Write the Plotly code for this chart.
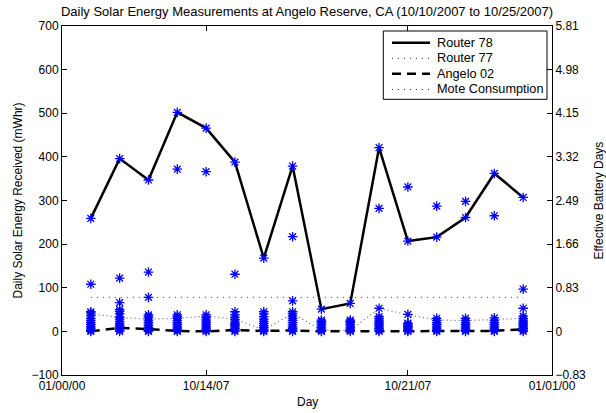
import plotly.graph_objects as go

days = [10, 11, 12, 13, 14, 15, 16, 17, 18, 19, 20, 21, 22, 23, 24, 25]

router78 = [259, 396, 347, 502, 466, 388, 168, 379, 51, 64, 421, 207, 216, 261, 362, 307]
router77 = [40, 32, 28, 30, 35, 28, 3, 41, 3, 2, 53, 38, 26, 25, 27, 30]
angelo02 = [0, 8, 5, 1, 0, 3, 1, 2, 0, 0, 0, 0, 0, 1, 1, 5]
mote_consumption = [78] * 16

# Second-highest node readings per day
second_node = [108, 122, 136, 372, 366, 131, None, 217, None, None, 282, 331, 287, 298, 265, 97]
# Additional isolated readings
extra_days = [11, 12, 17, 20, 21, 25]
extra_vals = [66, 78, 70, 53, 39, 53]

# Clustered low readings from the remaining nodes, per day
cluster_values = [
    [0, 2, 5, 8, 12, 16, 20, 25, 30, 36, 42, 45],
    [0, 3, 6, 10, 14, 18, 23, 28, 33, 40, 46, 50],
    [0, 2, 5, 9, 13, 17, 21, 26, 31, 35, 38],
    [0, 2, 5, 8, 12, 16, 20, 25, 30, 34, 38],
    [0, 2, 5, 8, 12, 16, 20, 24, 28, 33, 38],
    [0, 3, 6, 10, 14, 18, 22, 27, 32, 38, 45],
    [0, 2, 5, 9, 13, 18, 23, 28, 34, 40, 45],
    [0, 3, 6, 10, 15, 20, 25, 30, 35, 40, 45],
    [0, 2, 5, 8, 12, 16, 20, 23, 26],
    [0, 2, 5, 8, 12, 16, 20, 23, 26],
    [0, 3, 6, 10, 14, 18, 22, 26, 30, 34],
    [0, 2, 5, 8, 11, 14, 17, 19],
    [0, 2, 5, 8, 12, 16, 20, 25, 30],
    [0, 2, 5, 8, 12, 16, 20, 25, 30],
    [0, 2, 5, 8, 12, 16, 20, 25, 31],
    [0, 3, 6, 10, 14, 18, 22, 26, 30, 35],
]

xtick_vals = [9, 14, 21, 26]
xtick_text = ["01/00/00", "10/14/07", "10/21/07", "01/01/00"]
ytick_left = [-100, 0, 100, 200, 300, 400, 500, 600, 700]
ytick_right = [-0.83, 0, 0.83, 1.66, 2.49, 3.32, 4.15, 4.98, 5.81]
ytick_right_text = ["\u22120.83", "0", "0.83", "1.66", "2.49", "3.32", "4.15", "4.98", "5.81"]

legend_names = ["Router 78", "Router 77", "Angelo 02", "Mote Consumption"]
legend_styles = [
    dict(color="black", width=2.5, dash="solid"),
    dict(color="#555555", width=1.2, dash="1px,5px"),
    dict(color="black", width=2.5, dash="9px,6px"),
    dict(color="#333333", width=1, dash="1px,5px"),
]

FONT = "Liberation Sans, Arial, Helvetica, sans-serif"
W, H = 606, 413
PX0, PX1, PY0, PY1 = 62, 552, 26, 375


def px(x):
    return (x - PX0) / (PX1 - PX0)


def py(y):
    return (PY1 - y) / (PY1 - PY0)


fig = go.Figure()

fig.add_trace(go.Scatter(x=days, y=router78, mode="lines", name=legend_names[0],
                         line=legend_styles[0], showlegend=False))
fig.add_trace(go.Scatter(x=days, y=router77, mode="lines", name=legend_names[1],
                         line=dict(color="#666666", width=1.2, dash="1px,3px"), showlegend=False))
fig.add_trace(go.Scatter(x=days, y=angelo02, mode="lines", name=legend_names[2],
                         line=legend_styles[2], showlegend=False))
fig.add_trace(go.Scatter(x=days, y=mote_consumption, mode="lines", name=legend_names[3],
                         line=legend_styles[3], showlegend=False))

star_x, star_y = [], []
for d, vals in zip(days, cluster_values):
    for v in vals:
        star_x.append(d)
        star_y.append(v)
for d, v in zip(days, second_node):
    if v is not None:
        star_x.append(d)
        star_y.append(v)
star_x += extra_days
star_y += extra_vals
star_x += days
star_y += router78

fig.add_trace(go.Scatter(x=star_x, y=star_y, mode="markers", showlegend=False,
                         marker=dict(symbol="asterisk-open", size=8, color="blue",
                                     line=dict(color="blue", width=1.3))))

# invisible trace to activate right axis
fig.add_trace(go.Scatter(x=[days[0]], y=[0], yaxis="y2", mode="markers",
                         marker=dict(opacity=0), showlegend=False, hoverinfo="skip"))

# Custom legend box (MATLAB style)
shapes = [dict(type="rect", xref="paper", yref="paper",
               x0=px(383.3), x1=px(547), y0=py(99.3), y1=py(31),
               line=dict(color="black", width=1), fillcolor="white", layer="above")]
annotations = []
row_y = [42.7, 58.3, 73.8, 89.5]
for name, style, ry in zip(legend_names, legend_styles, row_y):
    shapes.append(dict(type="line", xref="paper", yref="paper",
                       x0=px(392), x1=px(430), y0=py(ry), y1=py(ry),
                       line=style, layer="above"))
    annotations.append(dict(text=name, xref="paper", yref="paper",
                            x=px(435), y=py(ry), xanchor="left", yanchor="middle",
                            showarrow=False, font=dict(size=12.7, color="black")))

# Axis titles
annotations.append(dict(text="Daily Solar Energy Received (mWhr)", xref="paper", yref="paper",
                        x=px(17), y=py(200.5), textangle=-90, xanchor="center", yanchor="middle",
                        showarrow=False, font=dict(size=12, color="black")))
annotations.append(dict(text="Effective Battery Days", xref="paper", yref="paper",
                        x=px(598), y=py(200.5), textangle=-90, xanchor="center", yanchor="middle",
                        showarrow=False, font=dict(size=12, color="black")))
annotations.append(dict(text="Day", xref="paper", yref="paper",
                        x=px(307), y=py(402), xanchor="center", yanchor="middle",
                        showarrow=False, font=dict(size=12, color="black")))

fig.update_layout(
    width=W, height=H,
    margin=dict(l=PX0, r=W - PX1, t=PY0, b=H - PY1),
    paper_bgcolor="white", plot_bgcolor="white",
    font=dict(family=FONT, size=12, color="black"),
    title=dict(text="Daily Solar Energy Measurements at Angelo Reserve, CA (10/10/2007 to 10/25/2007)",
               x=0.5, xref="paper", xanchor="center", y=1 - 11 / H, yref="container", yanchor="middle",
               font=dict(size=13)),
    showlegend=False,
    shapes=shapes,
    annotations=annotations,
    xaxis=dict(range=[9, 26], tickvals=xtick_vals, ticktext=xtick_text,
               ticks="inside", ticklen=5, tickcolor="black", automargin=False,
               showline=True, linecolor="black", linewidth=1, mirror="ticks",
               showgrid=False, zeroline=False),
    yaxis=dict(range=[-100, 700], tickvals=ytick_left,
               ticks="inside", ticklen=5, tickcolor="black", automargin=False,
               showline=True, linecolor="black", linewidth=1,
               showgrid=False, zeroline=False),
    yaxis2=dict(range=[-0.83, 5.81], tickvals=ytick_right, ticktext=ytick_right_text,
                overlaying="y", side="right", automargin=False,
                ticks="inside", ticklen=5, tickcolor="black",
                showline=True, linecolor="black", linewidth=1,
                showgrid=False, zeroline=False),
)

fig.write_html("out.html",
               config={"displayModeBar": False},
               post_script="document.body.style.margin='0';document.body.style.overflow='hidden';")
